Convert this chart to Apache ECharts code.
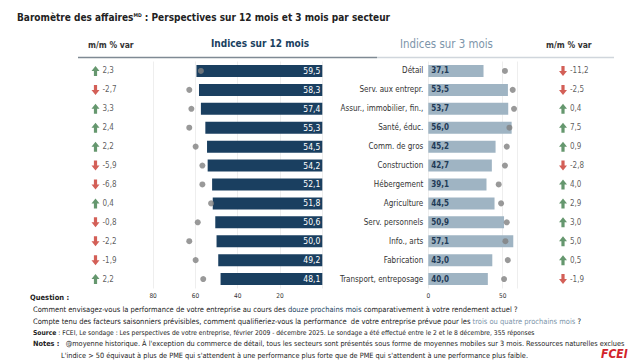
<!DOCTYPE html>
<html><head><meta charset="utf-8">
<script src="https://cdn.jsdelivr.net/npm/echarts@6/dist/echarts.min.js"></script>
<style>html,body{margin:0;padding:0;background:#fff}#c{width:635px;height:362px}</style>
</head><body><div id="c"></div>
<script>
const sectors = ['Détail','Serv. aux entrepr.','Assur., immobilier, fin.,','Santé, éduc.','Comm. de gros','Construction','Hébergement','Agriculture','Serv. personnels','Info., arts','Fabrication','Transport, entreposage'];
const idx12 = [59.5,58.3,57.4,55.3,54.5,54.2,52.1,51.8,50.6,50.0,49.2,48.1];
const hist12 = [57.4,62.9,61.9,62.9,59.9,56.7,56.7,52.6,58.9,62.9,59.9,56.3];
const chg12 = [2.3,-2.7,3.3,2.4,2.2,-5.9,-6.8,0.4,-0.8,-2.2,-1.9,2.2];
const idx3 = [37.1,53.5,53.7,56.0,45.2,42.7,39.1,44.5,50.9,57.1,43.0,40.0];
const hist3 = [51.5,56.7,57.6,54.5,52.7,51.5,47.3,48.9,52.7,51.8,53.4,50.9];
const chg3 = [-11.2,-2.5,0.4,7.5,0.9,-2.8,4.0,2.9,3.0,5.0,0.5,-1.9];
const ticks12 = [80,60,40,20];
const ticks3 = [0,50];

const FONT = '"DejaVu Sans Condensed","Liberation Sans",sans-serif';
const NAVY = '#1a3f60', LIGHT = '#9fb4c3', GREEN = '#3f7d4a', RED = '#c8372d', DOT = '#808080';
const fmt = v => v.toFixed(1).replace('.', ',');
const UP = 'path://M5,0 L10,5.5 L7,5.5 L7,11 L3,11 L3,5.5 L0,5.5 Z';
const DOWN = 'path://M5,11 L10,5.5 L7,5.5 L7,0 L3,0 L3,5.5 L0,5.5 Z';

const TOP = 61.5, H = 227;
const cat = sectors.map((s, i) => i);
function catAxis(gi, show) {
  return { type: 'category', gridIndex: gi, data: show ? sectors : cat, inverse: true,
    axisLine: {show: false}, axisTick: {show: false},
    axisLabel: show ? {show: true, fontFamily: FONT, fontSize: 8, color: '#333', margin: 5} : {show: false} };
}
function arrowSeries(vals, gi) {
  return { type: 'scatter', xAxisIndex: gi, yAxisIndex: gi,
    data: vals.map((v, i) => ({ value: [0, i], symbol: v >= 0 ? UP : DOWN,
      itemStyle: {color: v >= 0 ? GREEN : RED}, chg: v })),
    symbolSize: [8, 10], silent: true,
    label: { show: true, position: 'right', distance: 3, fontFamily: FONT, fontSize: 8, color: '#333',
      formatter: p => fmt(p.data.chg) } };
}
const n75 = {fontFamily: FONT, fontSize: 7.5, fill: '#222'};
const n67 = {fontFamily: FONT, fontSize: 6.7, fill: '#222'};
const nN = {fontFamily: FONT, fontSize: 7.3, fill: '#222'};
const chart = echarts.init(document.getElementById('c'), null, {renderer: 'svg'});
chart.setOption({
  animation: false,
  grid: [
    {left: 153.1, width: 169.2, top: TOP, height: H},
    {left: 428.3, width: 89.3, top: TOP, height: H},
    {left: 95.5, width: 20, top: TOP, height: H},
    {left: 563, width: 20, top: TOP, height: H}
  ],
  xAxis: [
    {type: 'value', gridIndex: 0, inverse: true, min: 0, max: 80, interval: 20,
     axisLine: {show: false}, axisTick: {show: false},
     splitLine: {lineStyle: {color: '#eeeeee'}},
     axisLabel: {fontFamily: FONT, fontSize: 6.5, color: '#333', margin: 4,
       formatter: v => ticks12.includes(v) ? String(v) : ''}},
    {type: 'value', gridIndex: 1, min: 0, max: 60, interval: 50,
     axisLine: {show: false}, axisTick: {show: false},
     splitLine: {lineStyle: {color: '#eeeeee'}},
     axisLabel: {fontFamily: FONT, fontSize: 6.5, color: '#333', margin: 4, showMaxLabel: false,
       formatter: v => ticks3.includes(v) ? String(v) : ''}},
    {type: 'value', gridIndex: 2, min: 0, max: 1, show: false},
    {type: 'value', gridIndex: 3, min: 0, max: 1, show: false}
  ],
  yAxis: [catAxis(0, false), catAxis(1, true), catAxis(2, false), catAxis(3, false)],
  series: [
    {type: 'bar', xAxisIndex: 0, yAxisIndex: 0, data: idx12, barWidth: 12, itemStyle: {color: NAVY},
     label: {show: true, position: 'insideRight', distance: 2, color: '#fff', fontFamily: FONT, fontSize: 8.5, formatter: p => fmt(p.value)}},
    {type: 'scatter', xAxisIndex: 0, yAxisIndex: 0, data: hist12.map((v, i) => [v, i]), symbolSize: 6, itemStyle: {color: DOT}},
    {type: 'bar', xAxisIndex: 1, yAxisIndex: 1, data: idx3, barWidth: 12, itemStyle: {color: LIGHT},
     label: {show: true, position: 'insideLeft', distance: 3, color: '#1f3b57', fontWeight: 'bold', fontFamily: FONT, fontSize: 8, formatter: p => fmt(p.value)}},
    {type: 'scatter', xAxisIndex: 1, yAxisIndex: 1, data: hist3.map((v, i) => [v, i]), symbolSize: 6, itemStyle: {color: DOT}},
    arrowSeries(chg12, 2),
    arrowSeries(chg3, 3)
  ],
  graphic: [
    {type: 'text', left: 17, top: 12, style: {text: '{b|Baromètre des affaires}{s|MD}{b| : Perspectives sur 12 mois et 3 mois par secteur}',
      rich: {b: {fontFamily: FONT, fontSize: 10, fontWeight: 'bold', fill: '#222'}, s: {fontFamily: FONT, fontSize: 5, fontWeight: 'bold', fill: '#222', verticalAlign: 'top'}}}},
    {type: 'text', left: 88, top: 40, style: {text: 'm/m % var', fontFamily: FONT, fontSize: 8.5, fontWeight: 'bold', fill: '#333'}},
    {type: 'text', left: 211, top: 38, style: {text: 'Indices sur 12 mois', fontFamily: FONT, fontSize: 10, fontWeight: 'bold', fill: NAVY}},
    {type: 'text', left: 400, top: 38, style: {text: 'Indices sur 3 mois', fontFamily: FONT, fontSize: 11.4, fill: '#7d95aa'}},
    {type: 'text', left: 546, top: 40, style: {text: 'm/m % var', fontFamily: FONT, fontSize: 8.5, fontWeight: 'bold', fill: '#333'}},
    {type: 'line', shape: {x1: 78, y1: 57.5, x2: 377, y2: 57.5}, style: {stroke: '#7f8a94', lineWidth: 1.5}},
    {type: 'line', shape: {x1: 377, y1: 57.5, x2: 614, y2: 57.5}, style: {stroke: '#d0d6dc', lineWidth: 1.5}},
    {type: 'text', left: 30, top: 293, style: {text: 'Question :', fontFamily: FONT, fontSize: 7.5, fontWeight: 'bold', fill: '#222'}},
    {type: 'text', left: 33, top: 305, style: {text: '{n|Comment envisagez-vous la performance de votre entreprise au cours des }{d|douze prochains mois}{n| comparativement à votre rendement actuel ?}',
      rich: {n: n75, d: Object.assign({}, n75, {fill: NAVY})}}},
    {type: 'text', left: 33, top: 317, style: {text: '{n|Compte tenu des facteurs saisonniers prévisibles, comment qualifieriez-vous la performance  de votre entreprise prévue pour les }{l|trois ou quatre prochains mois}{n| ?}',
      rich: {n: n75, l: Object.assign({}, n75, {fill: '#7d95aa'})}}},
    {type: 'text', left: 33, top: 329, style: {text: '{b|Source}{n| : FCEI, Le sondage : Les perspectives de votre entreprise, février 2009 - décembre 2025. Le sondage a été effectué entre le 2 et le 8 décembre, 355 réponses}',
      rich: {n: n67, b: Object.assign({}, n67, {fontWeight: 'bold'})}}},
    {type: 'text', left: 33, top: 340, style: {text: '{b|Notes :}{n|   @moyenne historique. À l\'exception du commerce de détail, tous les secteurs sont présentés sous forme de moyennes mobiles sur 3 mois. Ressources naturelles exclues}',
      rich: {n: nN, b: Object.assign({}, nN, {fontWeight: 'bold'})}}},
    {type: 'text', left: 61, top: 352, style: {text: 'L\'indice > 50 équivaut à plus de PME qui s\'attendent à une performance plus forte que de PME qui s\'attendent à une performance plus faible.', fontFamily: FONT, fontSize: 7.3, fill: '#222'}},
    {type: 'text', left: 601, top: 348, style: {text: 'FCEI', fontFamily: FONT, fontSize: 12, fontWeight: 'bold', fontStyle: 'italic', fill: '#d2232a'}}
  ]
});
</script></body></html>
